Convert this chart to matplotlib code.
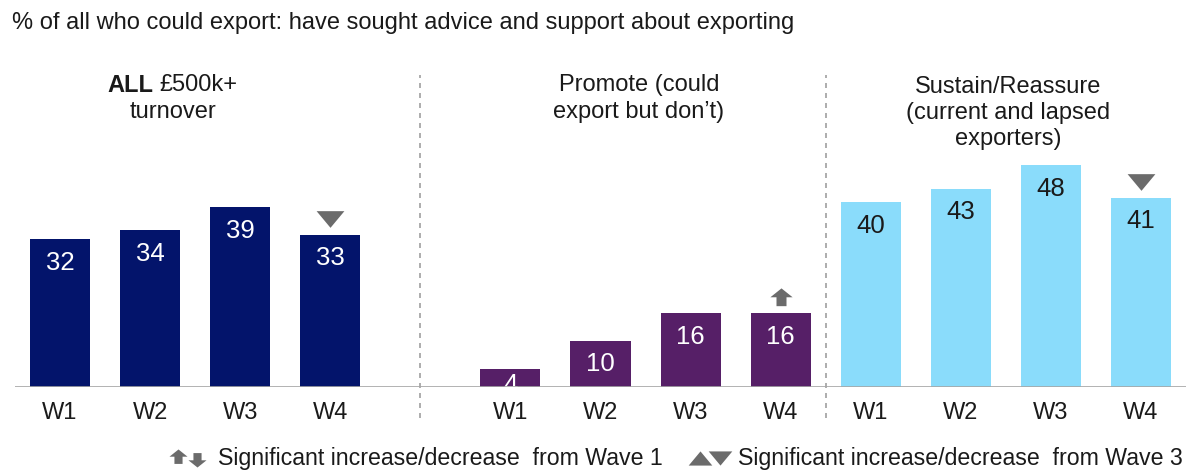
import matplotlib
matplotlib.use("Agg")
import matplotlib.pyplot as plt
from matplotlib.path import Path

plt.rcParams['font.family'] = ['Liberation Sans', 'DejaVu Sans']

# Data
waves = ["W1", "W2", "W3", "W4"]
all_500k = [32, 34, 39, 33]
promote = [4, 10, 16, 16]
sustain = [40, 43, 48, 41]
# significance markers: (group index, wave index, kind)
sig_wave3 = [(0, 3, "down"), (2, 3, "down")]
sig_wave1 = [(1, 3, "up")]

colors = ["#03146B", "#561F67", "#8ADCFB"]
label_colors = ["white", "white", "#1a1a1a"]
group_offsets = [0, 5, 9]
series = [all_500k, promote, sustain]

W, H = 1194, 471
fig = plt.figure(figsize=(W / 100, H / 100), dpi=100)
px_per_unit = 4.615
base_px, top_px = 387, 60
ax = fig.add_axes([15 / W, 1 - base_px / H, (1186 - 15) / W, (base_px - top_px) / H])
ax.set_xlim(-0.5, 12.5)
ax.set_ylim(0, (base_px - top_px) / px_per_unit)
for s in ax.spines.values():
    s.set_visible(False)
ax.axhline(0, color="#a6a6a6", lw=1.2, zorder=5)
ax.set_yticks([])

txt = "#1a1a1a"
xticks, xlabels = [], []
for g, (vals, off) in enumerate(zip(series, group_offsets)):
    xs = [off + i for i in range(len(vals))]
    ax.bar(xs, vals, width=0.667, color=colors[g], zorder=2)
    for x, v in zip(xs, vals):
        ytop = v - 2.5 if v > 8 else v - 0.9
        ax.text(x, ytop, str(v), ha="center", va="top", fontsize=18.5,
                color=label_colors[g], zorder=3)
    xticks += xs
    xlabels += waves

ax.set_xticks(xticks)
ax.set_xticklabels(xlabels, fontsize=17, color=txt)
ax.tick_params(axis="x", length=0, pad=11)

# Dividers between segments
for xd in (4.0, 8.5):
    ax.plot([xd, xd], [-6.7, 67.6], ls=(0, (3, 3)), color="#a0a0a0", lw=1.2,
            clip_on=False, zorder=1)

# Segment headers
hdr_kw = dict(ha="center", va="center", fontsize=17, color=txt, linespacing=1.25)
fig.text(153 / W, 1 - 85 / H, "ALL", ha="right", va="center", fontsize=17,
         fontweight="bold", color=txt)
fig.text(159 / W, 1 - 85 / H, "£500k+", ha="left", va="center", fontsize=17, color=txt)
fig.text(173 / W, 1 - 112 / H, "turnover", **hdr_kw)
fig.text(639 / W, 1 - 98.5 / H, "Promote (could\nexport but don’t)", **hdr_kw)
fig.text(1008 / W, 1 - 113 / H, "Sustain/Reassure\n(current and lapsed\nexporters)", **hdr_kw)

# Title
fig.text(12 / W, 1 - 23 / H,
         "% of all who could export: have sought advice and support about exporting",
         ha="left", va="center", fontsize=17, color=txt)

# Arrow marker (upward), its flipped version, and flat triangles
arrow_up = Path([(0, 1), (1, 0.2), (0.45, 0.2), (0.45, -0.6), (-0.45, -0.6),
                 (-0.45, 0.2), (-1, 0.2), (0, 1)],
                [Path.MOVETO] + [Path.LINETO] * 6 + [Path.CLOSEPOLY])
arrow_down = Path([(x, -y) for x, y in arrow_up.vertices], arrow_up.codes)
tri_down = Path([(-1, 0.6), (1, 0.6), (0, -0.6), (-1, 0.6)],
                [Path.MOVETO, Path.LINETO, Path.LINETO, Path.CLOSEPOLY])
tri_up = Path([(x, -y) for x, y in tri_down.vertices], tri_down.codes)

mk_color = "#6b6b6b"
for g, i, kind in sig_wave3:
    v = series[g][i]
    ax.plot(group_offsets[g] + i, v + 3.4, marker=tri_down if kind == "down" else tri_up,
            ms=20, mew=0, color=mk_color, clip_on=False, zorder=4)
for g, i, kind in sig_wave1:
    v = series[g][i]
    ax.plot(group_offsets[g] + i, v + 3.0, marker=arrow_up if kind == "up" else arrow_down,
            ms=16, color=mk_color, clip_on=False, zorder=4, mew=0)

# Legend line at the bottom
def fig_marker(xpx, ypx, marker, ms):
    fig.lines.append(plt.Line2D([xpx / W], [1 - ypx / H], marker=marker, ms=ms,
                                color=mk_color, mew=0, transform=fig.transFigure,
                                ls="none"))

fig_marker(178, 458, arrow_up, 13)
fig_marker(197, 458, arrow_down, 13)
fig_marker(700, 458, tri_up, 17)
fig_marker(720, 458, tri_down, 17)
leg_kw = dict(ha="left", va="center", fontsize=16.7, color=txt)
fig.text(218 / W, 1 - 458 / H, "Significant increase/decrease  from Wave 1", **leg_kw)
fig.text(738 / W, 1 - 458 / H, "Significant increase/decrease  from Wave 3", **leg_kw)

fig.savefig("out.png", dpi=100, facecolor="white")
